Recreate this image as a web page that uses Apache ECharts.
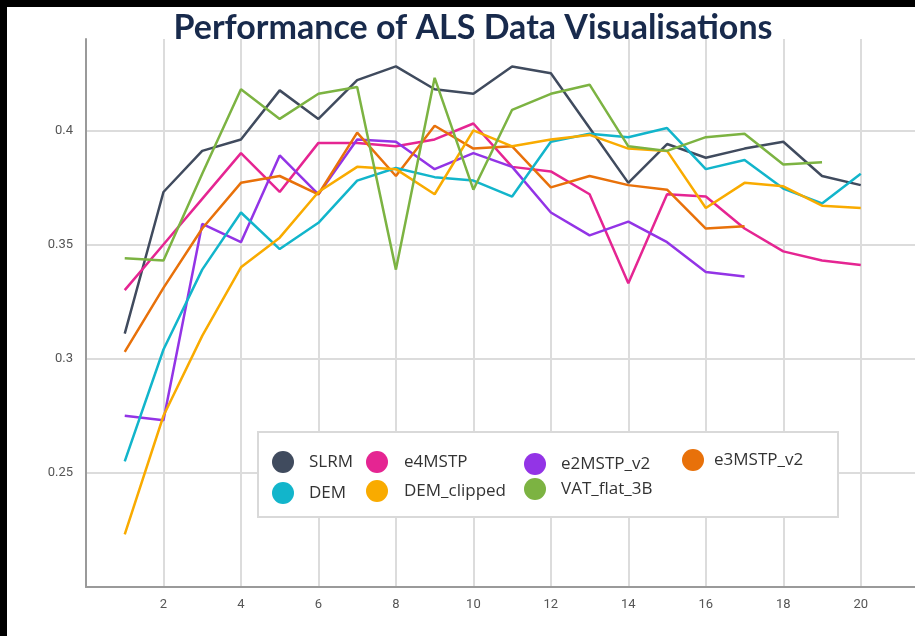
<!DOCTYPE html>
<html>
<head>
<meta charset="utf-8">
<script src="https://cdn.jsdelivr.net/npm/echarts@6/dist/echarts.min.js"></script>
<style>
html,body{margin:0;padding:0;background:#fff;}
#chart{width:915px;height:636px;}
</style>
</head>
<body>
<div id="chart"></div>
<script>
const xValues = [1,2,3,4,5,6,7,8,9,10,11,12,13,14,15,16,17,18,19,20];
const seriesNames = ['SLRM','e4MSTP','e2MSTP_v2','e3MSTP_v2','DEM','DEM_clipped','VAT_flat_3B'];
const SLRM = [0.311,0.373,0.391,0.396,0.4175,0.405,0.422,0.428,0.418,0.416,0.428,0.425,0.401,0.377,0.394,0.388,0.392,0.395,0.380,0.376];
const e4MSTP = [0.330,0.350,0.370,0.390,0.373,0.3945,0.3945,0.393,0.396,0.403,0.384,0.382,0.372,0.333,0.372,0.371,0.357,0.347,0.343,0.341];
const e2MSTP_v2 = [0.275,0.273,0.359,0.351,0.389,0.372,0.396,0.395,0.383,0.390,0.384,0.364,0.354,0.360,0.351,0.338,0.336];
const e3MSTP_v2 = [0.303,0.331,0.357,0.377,0.380,0.372,0.399,0.380,0.402,0.392,0.393,0.375,0.380,0.376,0.374,0.357,0.358];
const DEM = [0.255,0.304,0.339,0.364,0.348,0.3595,0.378,0.3835,0.3795,0.378,0.371,0.395,0.3985,0.397,0.401,0.383,0.387,0.3745,0.368,0.381];
const DEM_clipped = [0.223,0.275,0.310,0.340,0.353,0.373,0.384,0.383,0.372,0.400,0.393,0.396,0.398,0.392,0.391,0.366,0.377,0.3755,0.367,0.366];
const VAT_flat_3B = [0.344,0.343,0.381,0.418,0.405,0.416,0.419,0.339,0.423,0.374,0.409,0.416,0.420,0.393,0.391,0.397,0.3985,0.385,0.386];
const xTicks = [2,4,6,8,10,12,14,16,18,20];
const yTicks = [0.25,0.3,0.35,0.4];

const valuesByName = {SLRM, e4MSTP, e2MSTP_v2, e3MSTP_v2, DEM, DEM_clipped, VAT_flat_3B};
const colors = {
  'SLRM':'#404b5e','e4MSTP':'#e52592','e2MSTP_v2':'#9334e6','e3MSTP_v2':'#e8710a',
  'DEM':'#12b5cb','DEM_clipped':'#f9ab00','VAT_flat_3B':'#7cb342'
};
const legendPos = {
  'SLRM':[293,462],'e4MSTP':[388,462],'e2MSTP_v2':[545,464],'e3MSTP_v2':[698,460],
  'DEM':[293,493],'DEM_clipped':[388,491],'VAT_flat_3B':[545,489]
};
const legendTextGap = {'SLRM':26,'e4MSTP':27,'e2MSTP_v2':26,'e3MSTP_v2':21,'DEM':26,'DEM_clipped':27,'VAT_flat_3B':26};

const chart = echarts.init(document.getElementById('chart'), null, {renderer:'canvas'});

const series = seriesNames.map(name => ({
  name: name,
  type: 'line',
  data: valuesByName[name].map((v,i) => [xValues[i], v]),
  showSymbol: false,
  symbol: 'none',
  lineStyle: {width: 2.5, color: colors[name]},
  itemStyle: {color: colors[name]},
  z: 3
}));

const legends = seriesNames.map(name => {
  const [cx, cy] = legendPos[name];
  const iw = (legendTextGap[name] - 5) * 2;
  return {
    data: [{name: name, icon: 'circle'}],
    left: cx - iw/2,
    top: cy - 11,
    padding: 0,
    itemWidth: iw,
    itemHeight: 22,
    textStyle: {fontSize: 17, color: '#333', fontFamily: 'Open Sans, sans-serif'},
    selectedMode: false,
    z: 110
  };
});

chart.setOption({
  animation: false,
  backgroundColor: '#fff',
  title: {
    text: 'Performance of ALS Data Visualisations',
    left: 468,
    textAlign: 'center',
    top: 6,
    textStyle: {fontSize: 34, fontWeight: 'bold', color: '#182a4c', fontFamily: 'Lato, sans-serif'}
  },
  grid: {left: 86, top: 39, right: 0, height: 548, containLabel: false},
  xAxis: {
    type: 'value', min: 0, max: 21.4, interval: 2,
    axisLine: {show: true, lineStyle: {color: '#9a9a9a', width: 2}},
    axisTick: {show: false},
    axisLabel: {
      showMinLabel: false, showMaxLabel: false, margin: 11, color: '#555', fontSize: 13, fontFamily: 'Roboto, sans-serif',
      formatter: v => xTicks.includes(v) ? String(v) : ''
    },
    splitLine: {show: true, showMaxLine: false, lineStyle: {color: '#dcdcdc', width: 2}}
  },
  yAxis: {
    type: 'value', min: 0.2, max: 0.44, interval: 0.05,
    axisLine: {show: true, lineStyle: {color: '#9a9a9a', width: 2}},
    axisTick: {show: false},
    axisLabel: {
      showMinLabel: false, showMaxLabel: false, margin: 13, color: '#555', fontSize: 13, fontFamily: 'Roboto, sans-serif',
      formatter: v => {
        const t = yTicks.find(k => Math.abs(k - v) < 1e-6);
        return t === undefined ? '' : String(t);
      }
    },
    splitLine: {show: true, showMaxLine: false, showMinLine: false, lineStyle: {color: '#dcdcdc', width: 2}}
  },
  legend: legends,
  graphic: [
    {type: 'rect', shape: {x: 0, y: 0, width: 915, height: 7}, style: {fill: '#000'}, z: 200},
    {type: 'rect', shape: {x: 0, y: 0, width: 7, height: 636}, style: {fill: '#000'}, z: 200},
    {type: 'rect', shape: {x: 258, y: 432, width: 580, height: 85}, style: {fill: '#fff', stroke: '#d9d9d9', lineWidth: 2}, z: 100}
  ],
  series: series
});
</script>
</body>
</html>
